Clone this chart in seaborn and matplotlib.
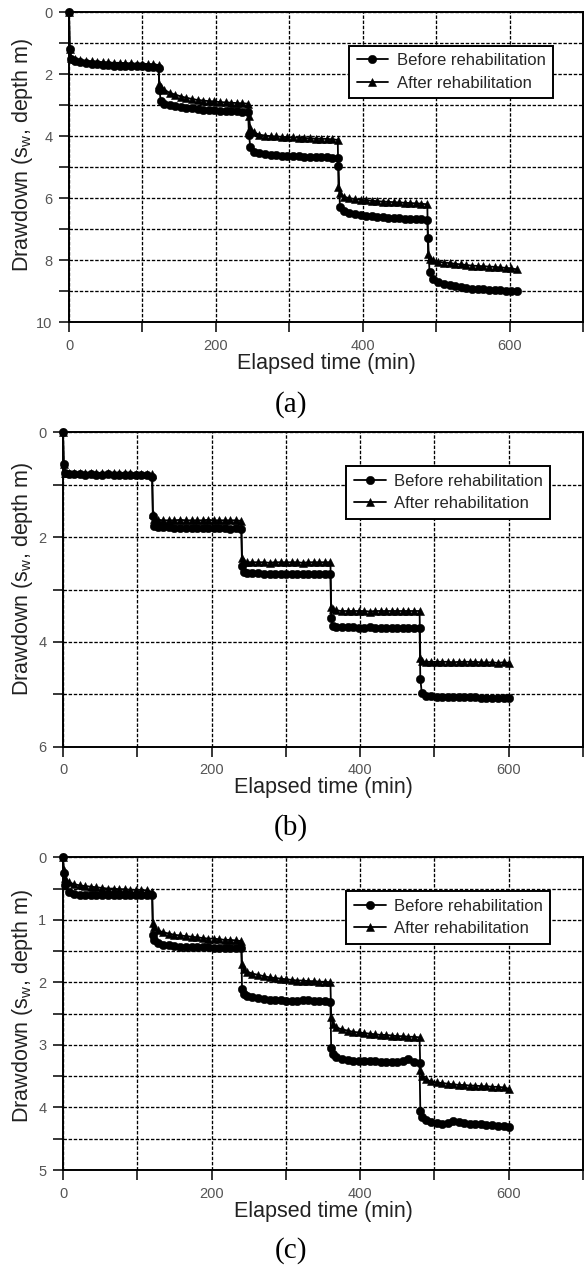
import matplotlib
matplotlib.use('Agg')
import matplotlib.pyplot as plt
from matplotlib.ticker import MultipleLocator
import pandas as pd
import seaborn as sns

# --- DATA (drawdown in m, time in min) ---
series_names = ['Before rehabilitation', 'After rehabilitation']

# (a) steps of ~122 min
time_a = [0,
          1, 3, 8, 15, 23, 31, 38, 46, 53, 61, 69, 76, 84, 92, 99, 107, 114, 122,
          123, 125, 130, 137, 145, 153, 160, 168, 175, 183, 191, 198, 206, 214, 221, 229, 236, 244,
          245, 247, 252, 259, 267, 275, 282, 290, 297, 305, 313, 320, 328, 336, 343, 351, 358, 366,
          367, 369, 374, 381, 389, 397, 404, 412, 419, 427, 435, 442, 450, 458, 465, 473, 480, 488,
          489, 491, 496, 503, 511, 519, 526, 534, 541, 549, 557, 564, 572, 580, 587, 595, 602, 610]
before_a = [0.0,
            1.2, 1.5, 1.58, 1.62, 1.65, 1.67, 1.68, 1.7, 1.71, 1.72, 1.72, 1.73, 1.74, 1.75, 1.75, 1.76, 1.77, 1.8,
            2.5, 2.85, 2.95, 3.0, 3.03, 3.06, 3.08, 3.1, 3.12, 3.14, 3.15, 3.17, 3.18, 3.19, 3.2, 3.2, 3.21, 3.22,
            3.95, 4.35, 4.5, 4.55, 4.58, 4.6, 4.62, 4.63, 4.64, 4.65, 4.65, 4.66, 4.67, 4.67, 4.68, 4.68, 4.69, 4.72,
            4.95, 6.3, 6.42, 6.48, 6.52, 6.55, 6.57, 6.58, 6.6, 6.62, 6.63, 6.64, 6.65, 6.66, 6.67, 6.68, 6.69, 6.7,
            7.3, 8.4, 8.6, 8.7, 8.76, 8.8, 8.84, 8.87, 8.9, 8.92, 8.94, 8.95, 8.96, 8.97, 8.98, 8.99, 9.0, 9.0]
after_a = [0.0,
           1.2, 1.48, 1.52, 1.55, 1.57, 1.58, 1.6, 1.61, 1.62, 1.63, 1.63, 1.64, 1.65, 1.66, 1.66, 1.67, 1.68, 1.7,
           2.3, 2.4, 2.5, 2.6, 2.66, 2.72, 2.76, 2.8, 2.83, 2.85, 2.87, 2.88, 2.9, 2.91, 2.92, 2.93, 2.94, 2.95,
           3.35, 3.75, 3.88, 3.95, 3.98, 4.0, 4.01, 4.02, 4.03, 4.04, 4.05, 4.06, 4.07, 4.08, 4.08, 4.09, 4.1, 4.12,
           5.65, 5.85, 5.95, 6.0, 6.03, 6.05, 6.07, 6.08, 6.1, 6.11, 6.12, 6.13, 6.14, 6.15, 6.16, 6.17, 6.18, 6.2,
           7.8, 7.95, 8.0, 8.05, 8.08, 8.1, 8.12, 8.14, 8.16, 8.18, 8.19, 8.2, 8.21, 8.22, 8.24, 8.25, 8.27, 8.3]

# (b) and (c) steps of 120 min
time_bc = [0,
           1, 3, 8, 15, 23, 30, 38, 45, 53, 60, 68, 75, 83, 90, 98, 105, 113, 120,
           121, 123, 128, 135, 143, 150, 158, 165, 173, 180, 188, 195, 203, 210, 218, 225, 233, 240,
           241, 243, 248, 255, 263, 270, 278, 285, 293, 300, 308, 315, 323, 330, 338, 345, 353, 360,
           361, 363, 368, 375, 383, 390, 398, 405, 413, 420, 428, 435, 443, 450, 458, 465, 473, 480,
           481, 483, 488, 495, 503, 510, 518, 525, 533, 540, 548, 555, 563, 570, 578, 585, 593, 600]
before_b = [0.0,
            0.6, 0.78, 0.8, 0.8, 0.8, 0.81, 0.8, 0.81, 0.81, 0.8, 0.81, 0.81, 0.81, 0.81, 0.82, 0.81, 0.82, 0.86,
            1.6, 1.78, 1.8, 1.81, 1.81, 1.82, 1.82, 1.82, 1.82, 1.83, 1.82, 1.83, 1.83, 1.83, 1.83, 1.84, 1.83, 1.84,
            2.55, 2.66, 2.68, 2.69, 2.69, 2.7, 2.7, 2.7, 2.7, 2.71, 2.7, 2.71, 2.71, 2.71, 2.7, 2.71, 2.71, 2.71,
            3.55, 3.7, 3.71, 3.72, 3.72, 3.72, 3.73, 3.73, 3.72, 3.73, 3.73, 3.73, 3.73, 3.74, 3.73, 3.74, 3.74, 3.74,
            4.7, 4.98, 5.03, 5.04, 5.05, 5.05, 5.05, 5.06, 5.05, 5.06, 5.06, 5.06, 5.07, 5.08, 5.07, 5.07, 5.07, 5.07]
after_b = [0.0,
           0.6, 0.77, 0.78, 0.78, 0.78, 0.78, 0.78, 0.78, 0.78, 0.78, 0.78, 0.78, 0.78, 0.78, 0.79, 0.79, 0.79, 0.8,
           1.55, 1.65, 1.67, 1.68, 1.68, 1.68, 1.67, 1.68, 1.68, 1.68, 1.68, 1.67, 1.68, 1.68, 1.68, 1.68, 1.68, 1.69,
           2.4, 2.47, 2.48, 2.48, 2.48, 2.48, 2.49, 2.48, 2.48, 2.48, 2.48, 2.48, 2.49, 2.48, 2.48, 2.48, 2.48, 2.48,
           3.33, 3.38, 3.4, 3.41, 3.41, 3.41, 3.41, 3.41, 3.42, 3.41, 3.41, 3.41, 3.41, 3.41, 3.41, 3.41, 3.41, 3.41,
           4.3, 4.37, 4.38, 4.38, 4.38, 4.38, 4.38, 4.39, 4.38, 4.38, 4.38, 4.38, 4.39, 4.39, 4.39, 4.4, 4.39, 4.4]
before_c = [0.0,
            0.25, 0.45, 0.56, 0.59, 0.6, 0.6, 0.61, 0.6, 0.6, 0.6, 0.6, 0.61, 0.6, 0.6, 0.6, 0.6, 0.6, 0.6,
            1.25, 1.32, 1.37, 1.4, 1.41, 1.42, 1.43, 1.43, 1.44, 1.44, 1.44, 1.44, 1.45, 1.45, 1.45, 1.45, 1.45, 1.45,
            2.1, 2.18, 2.22, 2.24, 2.25, 2.27, 2.28, 2.28, 2.28, 2.29, 2.29, 2.29, 2.28, 2.28, 2.29, 2.3, 2.3, 2.31,
            3.05, 3.15, 3.2, 3.22, 3.24, 3.25, 3.25, 3.26, 3.26, 3.26, 3.27, 3.27, 3.27, 3.27, 3.26, 3.23, 3.27, 3.29,
            4.05, 4.15, 4.2, 4.23, 4.25, 4.26, 4.25, 4.21, 4.24, 4.25, 4.26, 4.27, 4.27, 4.28, 4.28, 4.29, 4.3, 4.32]
after_c = [0.0,
           0.2, 0.33, 0.4, 0.43, 0.45, 0.46, 0.47, 0.48, 0.49, 0.5, 0.5, 0.51, 0.51, 0.52, 0.52, 0.52, 0.53, 0.55,
           1.05, 1.12, 1.17, 1.2, 1.22, 1.24, 1.25, 1.26, 1.27, 1.28, 1.29, 1.3, 1.3, 1.31, 1.32, 1.32, 1.33, 1.34,
           1.7, 1.78, 1.83, 1.86, 1.88, 1.9, 1.92, 1.93, 1.94, 1.95, 1.96, 1.97, 1.97, 1.98, 1.98, 1.99, 1.99, 2.0,
           2.55, 2.66, 2.72, 2.75, 2.77, 2.79, 2.8, 2.81, 2.82, 2.83, 2.84, 2.84, 2.85, 2.86, 2.86, 2.87, 2.87, 2.88,
           3.4, 3.5, 3.55, 3.58, 3.6, 3.61, 3.62, 3.63, 3.64, 3.64, 3.65, 3.65, 3.66, 3.66, 3.67, 3.67, 3.68, 3.7]

# --- STYLE ---
sns.set_theme(style='ticks')
plt.rcParams['font.family'] = ['Liberation Sans', 'DejaVu Sans']
plt.rcParams['mathtext.fontset'] = 'custom'
plt.rcParams['mathtext.rm'] = 'Liberation Sans'
plt.rcParams['mathtext.it'] = 'Liberation Sans:italic'

W, H = 584, 1268


def make_frame(t, before, after):
    return pd.DataFrame({
        'time': list(t) * 2,
        'drawdown': list(before) + list(after),
        'series': [series_names[0]] * len(t) + [series_names[1]] * len(t),
    })


def draw_panel(fig, rect_px, df, ymax, ymajor, yminor, ylab_y, caption, cap_base):
    left, top, right, bottom = rect_px
    ax = fig.add_axes([left / W, 1 - bottom / H, (right - left) / W, (bottom - top) / H])
    sns.lineplot(data=df, x='time', y='drawdown', hue='series', style='series',
                 palette=['black', 'black'], markers=['o', '^'], dashes=False,
                 estimator=None, sort=False, linewidth=1.3, markersize=6,
                 markeredgecolor='black', markeredgewidth=0.4, clip_on=False, ax=ax)
    ax.set_xlim(0, 700)
    ax.set_ylim(ymax, 0)
    ax.xaxis.set_major_locator(MultipleLocator(200))
    ax.xaxis.set_minor_locator(MultipleLocator(100))
    ax.yaxis.set_major_locator(MultipleLocator(ymajor))
    ax.yaxis.set_minor_locator(MultipleLocator(yminor))
    ax.grid(which='both', color='black', linestyle=(0, (2.6, 1.3)), linewidth=0.95)
    ax.set_axisbelow(True)
    ax.tick_params(which='both', direction='out', length=7, width=1.1, color='black',
                   pad=5, labelsize=10.5, labelcolor='#555555')
    for s in ax.spines.values():
        s.set_visible(True)
        s.set_color('black')
        s.set_linewidth(1.4)

    ax.set_xlabel('Elapsed time (min)', fontsize=15.5, labelpad=0, color='#222222')
    ax.set_ylabel('Drawdown (s$_{\\mathregular{w}}$, depth m)', fontsize=15.5,
                  color='#222222', va='baseline')
    ax.yaxis.set_label_coords((28 - left) / (right - left), ylab_y)

    handles, labels = ax.get_legend_handles_labels()
    leg = ax.legend(handles, labels, loc='upper left', bbox_to_anchor=(0.545, 0.892),
                    fontsize=12, frameon=True, fancybox=False, edgecolor='black',
                    framealpha=1, borderpad=0.45, handlelength=1.9, handletextpad=0.5,
                    labelspacing=0.45, borderaxespad=0)
    leg.get_frame().set_linewidth(1.4)

    fig.text(0.498, 1 - cap_base / H, caption, ha='center', va='baseline',
             fontsize=21, family='Liberation Serif', color='black')
    return ax


fig = plt.figure(figsize=(W / 100, H / 100), dpi=100)

draw_panel(fig, (69, 12.3, 583, 322), make_frame(time_a, before_a, after_a),
           10, 2, 1, 0.539, '(a)', 411.5)
draw_panel(fig, (63, 432.3, 583, 746.7), make_frame(time_bc, before_b, after_b),
           6, 2, 1, 0.533, '(b)', 834.5)
draw_panel(fig, (63, 857.3, 583, 1170), make_frame(time_bc, before_c, after_c),
           5, 1, 0.5, 0.525, '(c)', 1257.5)

fig.savefig('out.png', dpi=100, facecolor='white')
